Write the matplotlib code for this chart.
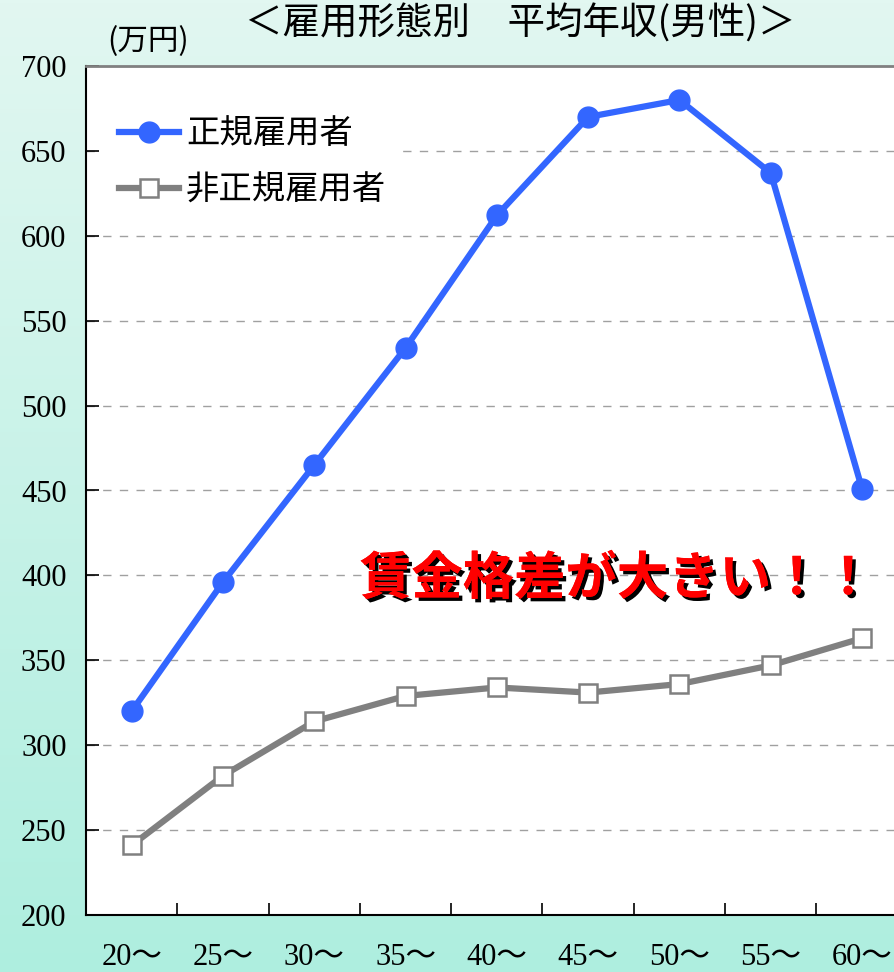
import numpy as np
import matplotlib.pyplot as plt
import matplotlib.patheffects as pe
from matplotlib.colors import LinearSegmentedColormap

# --- データ ---
ages = ["20～", "25～", "30～", "35～", "40～", "45～", "50～", "55～", "60～"]
regular = [320, 396, 465, 534, 612, 670, 680, 637, 451]
non_regular = [241, 282, 314, 329, 334, 331, 336, 347, 363]
y_ticks = [200, 250, 300, 350, 400, 450, 500, 550, 600, 650, 700]

jp = ["Noto Sans CJK JP", "DejaVu Sans"]
num_font = "Liberation Serif"

fig = plt.figure(figsize=(8.94, 9.72), dpi=100)

# --- 背景グラデーション ---
bg = fig.add_axes([0, 0, 1, 1], zorder=-10)
cmap = LinearSegmentedColormap.from_list("bg", ["#e2f7f1", "#aeeedf"])
bg.imshow(np.linspace(0, 1, 256).reshape(-1, 1), aspect="auto", cmap=cmap,
          extent=[0, 1, 0, 1])
bg.axis("off")

# --- プロット領域 ---
left = 86 / 894
bottom = 1 - 915 / 972
width = 9 * 91.3 / 894
height = (915 - 66) / 972
ax = fig.add_axes([left, bottom, width, height])
ax.set_facecolor("white")

x = np.arange(len(ages))
ax.plot(x, regular, color="#3366ff", lw=4.5, marker="o", ms=15,
        markerfacecolor="#3366ff", markeredgecolor="#3366ff", label="正規雇用者",
        zorder=4, clip_on=False)
ax.plot(x, non_regular, color="#808080", lw=4.5, marker="s", ms=13,
        markerfacecolor="white", markeredgecolor="#808080", markeredgewidth=1.8,
        label="非正規雇用者", zorder=4, clip_on=False)

ax.set_xlim(-0.5, len(ages) - 0.5)
ax.set_ylim(200, 700)
ax.set_yticks(y_ticks)
ax.set_yticklabels([str(v) for v in y_ticks], fontfamily=num_font, fontsize=22)
ax.set_xticks(np.arange(len(ages) + 1) - 0.5)
ax.set_xticklabels([])
ax.tick_params(axis="both", direction="in", length=9, width=1.2, color="black")
ax.tick_params(axis="y", pad=14)

for xi, lab in zip(x, ages):
    ax.text(xi, -0.05, lab, transform=ax.get_xaxis_transform(), ha="center",
            va="center", fontsize=22, family=[num_font, "Noto Sans CJK JP"])

for v in y_ticks[1:-1]:
    ax.axhline(v, color="#a0a0a0", lw=1, ls=(0, (6, 6)), zorder=1)

ax.spines["left"].set_linewidth(1.5)
ax.spines["bottom"].set_linewidth(1.5)
ax.spines["top"].set_color("#808080")
ax.spines["top"].set_linewidth(2)
ax.spines["right"].set_visible(False)

leg = ax.legend(loc="upper left", bbox_to_anchor=(0.0, 0.98), frameon=True,
                prop={"family": jp, "size": 24}, handlelength=1.8,
                labelspacing=0.65, borderpad=0.5, handletextpad=0.2)
leg.get_frame().set_facecolor("white")
leg.get_frame().set_edgecolor("none")
leg.get_frame().set_alpha(1)
leg.set_zorder(3)

# --- 注釈 ---
ax.text(2.5, 398, "賃金格差が大きい！！", fontsize=37, fontweight="bold",
        color="red", family=jp, ha="left", va="center", zorder=5,
        path_effects=[pe.withSimplePatchShadow(offset=(2.5, -2.5),
                                               shadow_rgbFace="black", alpha=1),
                      pe.Normal()])

# --- タイトル・単位 ---
fig.text(520 / 894, 1 - 24 / 972, "＜雇用形態別　平均年収(男性)＞", ha="center",
         va="center", fontsize=27, family=jp)
fig.text(148 / 894, 1 - 42 / 972, "(万円)", ha="center", va="center",
         fontsize=22, family=jp)

fig.savefig("out.png", dpi=100)
